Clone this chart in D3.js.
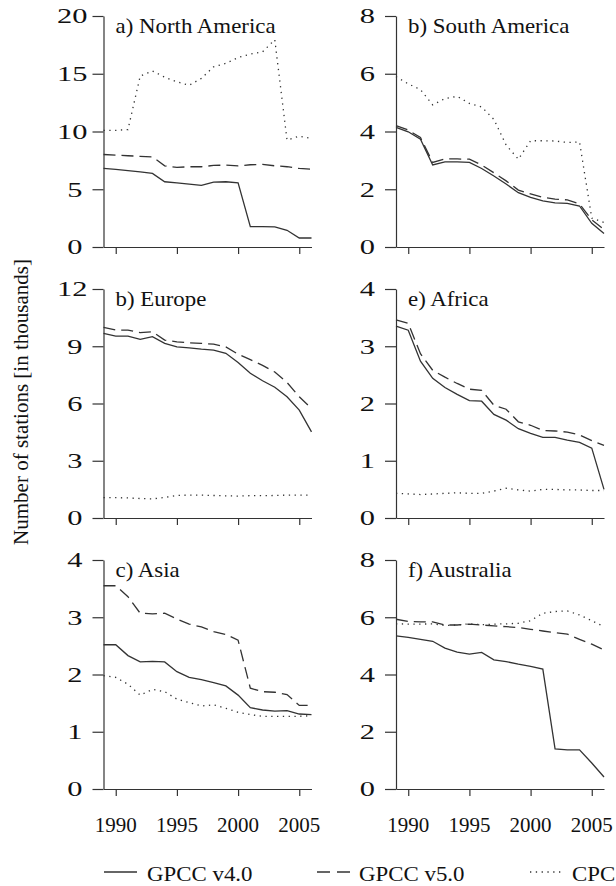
<!DOCTYPE html>
<meta charset="utf-8">
<style>
    body { margin: 0; background: #fff; }
    svg text { font-family: "Liberation Serif", "Times New Roman", serif; fill: #111; }
    .series { fill: none; stroke: #333; stroke-width: 1.3px; }
    .axis path, .axis line { stroke: #333; stroke-width: 1.2px; }
</style>
<svg width="616" height="886"></svg>
<script src="https://d3js.org/d3.v7.min.js"></script>
<script>

    var years = [1989, 1990, 1991, 1992, 1993, 1994, 1995, 1996, 1997, 1998, 1999, 2000, 2001, 2002, 2003, 2004, 2005, 2006];
    var xTicks = [1990, 1995, 2000, 2005];

    // North America
    var naV4  = [6.8, 6.72, 6.62, 6.51, 6.37, 5.65, 5.56, 5.45, 5.33, 5.62, 5.65, 5.56, 1.76, 1.76, 1.74, 1.45, 0.78, 0.78];
    var naV5  = [8.01, 7.95, 7.9, 7.85, 7.8, 7.03, 6.89, 6.95, 6.95, 7.06, 7.09, 7.03, 7.12, 7.15, 7.03, 6.95, 6.8, 6.74];
    var naCPC = [10.1, 10.1, 10.17, 14.8, 15.24, 14.7, 14.3, 14.0, 14.6, 15.6, 15.9, 16.4, 16.7, 16.9, 17.95, 9.25, 9.6, 9.4];
    var naTicks = [0, 5, 10, 15, 20];

    // South America
    var saV4  = [4.14, 3.99, 3.73, 2.84, 2.95, 2.95, 2.93, 2.72, 2.46, 2.18, 1.88, 1.72, 1.6, 1.53, 1.51, 1.42, 0.82, 0.47];
    var saV5  = [4.2, 4.05, 3.79, 2.93, 3.05, 3.05, 3.04, 2.84, 2.57, 2.29, 1.97, 1.84, 1.72, 1.66, 1.63, 1.49, 0.94, 0.61];
    var saCPC = [5.9, 5.65, 5.45, 4.92, 5.14, 5.22, 4.97, 4.85, 4.42, 3.53, 3.04, 3.68, 3.68, 3.67, 3.62, 3.64, 1.0, 0.85];
    var saTicks = [0, 2, 4, 6, 8];

    // Europe
    var euV4  = [9.67, 9.53, 9.53, 9.36, 9.5, 9.15, 8.97, 8.92, 8.85, 8.8, 8.63, 8.15, 7.58, 7.19, 6.85, 6.35, 5.65, 4.51];
    var euV5  = [9.99, 9.85, 9.85, 9.71, 9.76, 9.32, 9.23, 9.18, 9.15, 9.11, 8.97, 8.58, 8.3, 8.0, 7.65, 7.1, 6.35, 5.74];
    var euCPC = [1.07, 1.07, 1.05, 1.02, 1.0, 1.08, 1.18, 1.2, 1.2, 1.18, 1.16, 1.15, 1.17, 1.17, 1.18, 1.2, 1.2, 1.2];
    var euTicks = [0, 3, 6, 9, 12];

    // Africa
    var afV4  = [3.35, 3.28, 2.74, 2.44, 2.28, 2.16, 2.05, 2.04, 1.81, 1.71, 1.56, 1.48, 1.41, 1.41, 1.36, 1.32, 1.22, 0.5];
    var afV5  = [3.46, 3.4, 2.87, 2.58, 2.46, 2.35, 2.25, 2.23, 1.97, 1.9, 1.68, 1.62, 1.53, 1.52, 1.5, 1.45, 1.35, 1.27];
    var afCPC = [0.43, 0.42, 0.41, 0.42, 0.43, 0.44, 0.43, 0.43, 0.47, 0.52, 0.49, 0.47, 0.5, 0.5, 0.49, 0.49, 0.48, 0.48];
    var afTicks = [0, 1, 2, 3, 4];

    // Asia
    var asV4  = [2.52, 2.52, 2.33, 2.22, 2.23, 2.22, 2.05, 1.95, 1.91, 1.86, 1.8, 1.64, 1.42, 1.38, 1.36, 1.37, 1.31, 1.3];
    var asV5  = [3.55, 3.55, 3.36, 3.07, 3.06, 3.07, 2.97, 2.88, 2.83, 2.75, 2.7, 2.6, 1.76, 1.7, 1.69, 1.65, 1.46, 1.46];
    var asCPC = [1.98, 1.95, 1.83, 1.64, 1.74, 1.7, 1.57, 1.51, 1.45, 1.47, 1.41, 1.34, 1.3, 1.27, 1.27, 1.27, 1.27, 1.28];
    var asTicks = [0, 1, 2, 3, 4];

    // Australia
    var auV4  = [5.35, 5.3, 5.23, 5.16, 4.92, 4.78, 4.71, 4.77, 4.51, 4.45, 4.36, 4.28, 4.19, 1.4, 1.37, 1.37, 0.91, 0.42];
    var auV5  = [5.93, 5.85, 5.84, 5.84, 5.73, 5.73, 5.76, 5.73, 5.7, 5.67, 5.64, 5.58, 5.52, 5.46, 5.41, 5.23, 5.06, 4.86];
    var auCPC = [5.77, 5.76, 5.76, 5.77, 5.71, 5.73, 5.77, 5.74, 5.76, 5.77, 5.79, 5.88, 6.14, 6.2, 6.22, 6.08, 5.88, 5.67];
    var auTicks = [0, 2, 4, 6, 8];

    var seriesNames = ["GPCC v4.0", "GPCC v5.0", "CPC"];
    var dashes = [null, "12,6", "1.3,4.5"];

    var panels = [
        {title: "a) North America", col: 0, row: 0, data: [naV4, naV5, naCPC], ticks: naTicks},
        {title: "b) South America", col: 1, row: 0, data: [saV4, saV5, saCPC], ticks: saTicks},
        {title: "b) Europe",        col: 0, row: 1, data: [euV4, euV5, euCPC], ticks: euTicks},
        {title: "e) Africa",        col: 1, row: 1, data: [afV4, afV5, afCPC], ticks: afTicks},
        {title: "c) Asia",          col: 0, row: 2, data: [asV4, asV5, asCPC], ticks: asTicks},
        {title: "f) Australia",     col: 1, row: 2, data: [auV4, auV5, auCPC], ticks: auTicks}
    ];

    var svg = d3.select("svg");

    var colX = [103.5, 396],
        plotW = 208,
        rowTop = [16, 289, 560],
        rowBottom = [247, 518, 789];

    panels.forEach(function(p) {
        var x0 = colX[p.col],
            top = rowTop[p.row],
            bottom = rowBottom[p.row];

        var x = d3.scaleLinear().domain([years[0], years[years.length - 1]]).range([x0, x0 + plotW]);
        var y = d3.scaleLinear().domain([0, p.ticks[p.ticks.length - 1]]).range([bottom, top]);

        var g = svg.append("g");

        // y axis
        g.append("g")
            .attr("class", "axis")
            .attr("transform", "translate(" + x0 + ",0)")
            .call(d3.axisLeft(y).tickValues(p.ticks).tickSize(11).tickSizeOuter(0).tickFormat(""));

        // x axis
        g.append("g")
            .attr("class", "axis")
            .attr("transform", "translate(0," + bottom + ")")
            .call(d3.axisBottom(x).tickValues(xTicks).tickSize(7).tickSizeOuter(0).tickFormat(""));

        // y tick labels (stretched like the original)
        g.selectAll(".ylab")
            .data(p.ticks)
            .enter().append("text")
            .attr("text-anchor", "end")
            .attr("font-size", 21)
            .attr("dy", "0.35em")
            .attr("transform", function(d) {
                var off = String(d).length > 1 ? 16 : 21;
                return "translate(" + (x0 - off) + "," + y(d) + ") scale(1.45,1)";
            })
            .text(function(d) { return d; });

        if (p.row === 2) {
            g.selectAll(".xlab")
                .data(xTicks)
                .enter().append("text")
                .attr("text-anchor", "middle")
                .attr("font-size", 21)
                .attr("x", function(d) { return x(d); })
                .attr("y", bottom + 43)
                .text(function(d) { return d; });
        }

        g.append("text")
            .attr("font-size", 21)
            .attr("transform", "translate(" + (x0 + 12) + "," + (top + 17) + ") scale(1.09,1)")
            .text(p.title);

        var line = d3.line()
            .x(function(d, i) { return x(years[i]); })
            .y(function(d) { return y(d); });

        p.data.forEach(function(vals, k) {
            g.append("path")
                .attr("class", "series")
                .attr("stroke-dasharray", dashes[k])
                .attr("d", line(vals));
        });
    });

    // axis label
    svg.append("text")
        .attr("font-size", 21)
        .attr("text-anchor", "middle")
        .attr("transform", "translate(28,402) rotate(-90)")
        .text("Number of stations [in thousands]");

    // legend
    var legendX = [104, 317, 530];
    var legend = svg.append("g").selectAll("g")
        .data(seriesNames)
        .enter().append("g")
        .attr("transform", function(d, i) { return "translate(" + legendX[i] + ",872)"; });

    legend.append("line")
        .attr("class", "series")
        .attr("x1", 0).attr("x2", 33)
        .attr("stroke-dasharray", function(d, i) { return dashes[i] ? (i === 1 ? "13,7" : dashes[i]) : null; });

    legend.append("text")
        .attr("font-size", 21)
        .attr("transform", function(d, i) { return "translate(" + (i === 0 ? 43 : 42) + ",9) scale(1.09,1)"; })
        .text(function(d) { return d; });

</script>
